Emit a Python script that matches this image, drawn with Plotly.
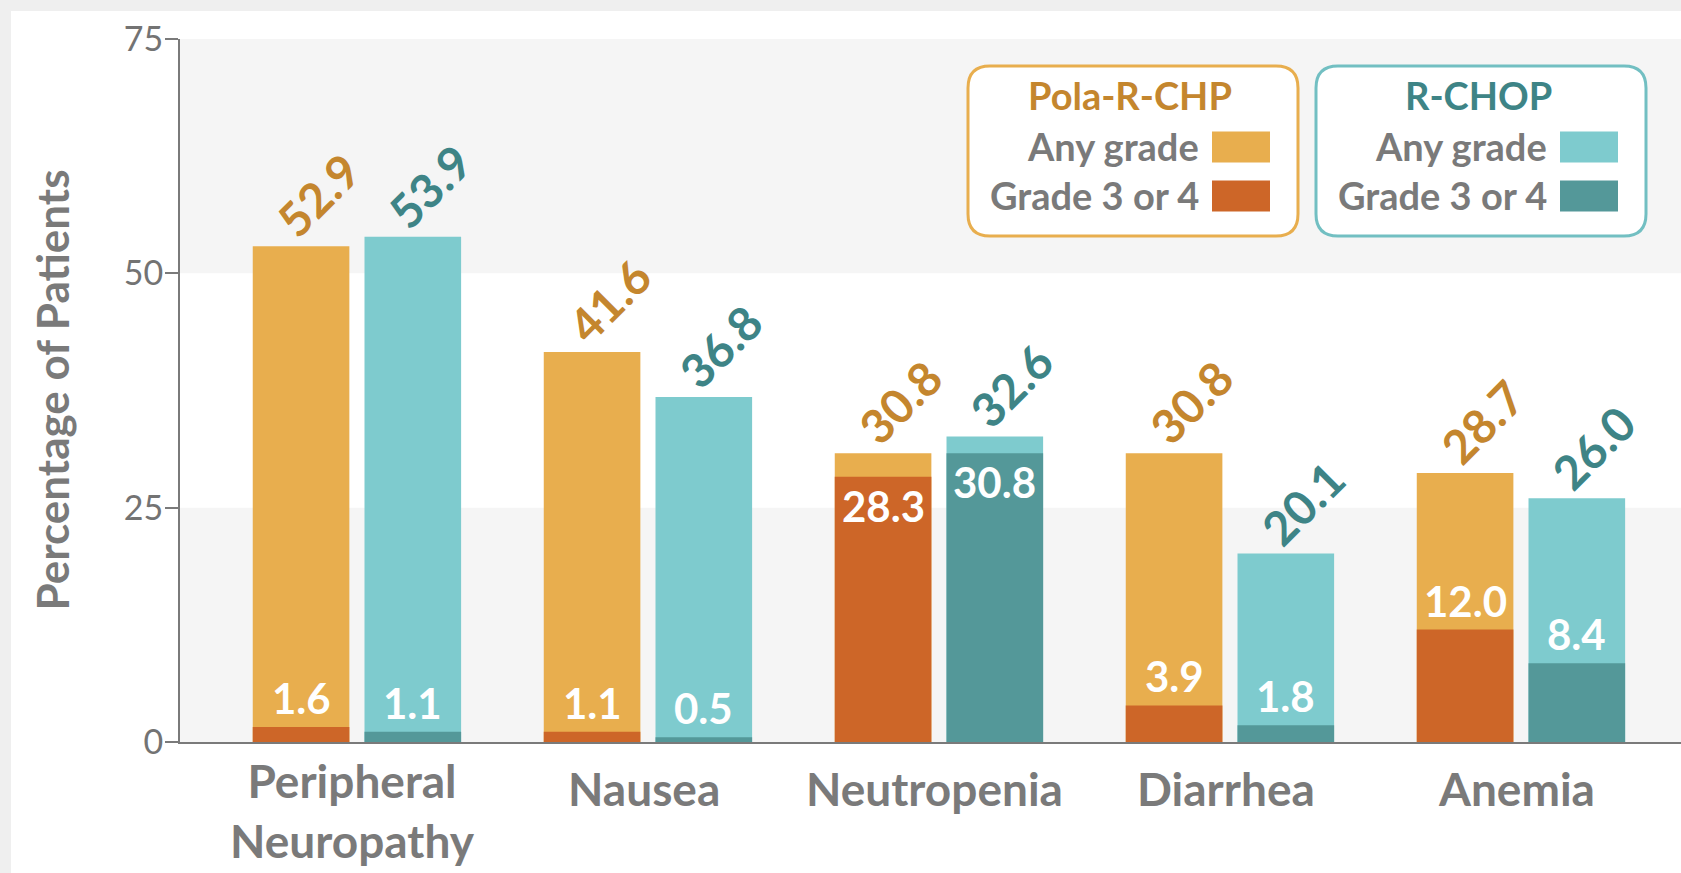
import plotly.graph_objects as go

# ---- data -------------------------------------------------------------
categories = ["Peripheral Neuropathy", "Nausea", "Neutropenia", "Diarrhea", "Anemia"]
category_lines = [["Peripheral", "Neuropathy"], ["Nausea"], ["Neutropenia"], ["Diarrhea"], ["Anemia"]]
pola_any = [52.9, 41.6, 30.8, 30.8, 28.7]
pola_g34 = [1.6, 1.1, 28.3, 3.9, 12.0]
rchop_any = [53.9, 36.8, 32.6, 20.1, 26.0]
rchop_g34 = [1.1, 0.5, 30.8, 1.8, 8.4]
y_ticks = [0, 25, 50, 75]
legend_groups = ["Pola-R-CHP", "R-CHOP"]
legend_items = ["Any grade", "Grade 3 or 4"]

# ---- styling ----------------------------------------------------------
FONT = "Lato"
GRAY = "#7a7a7a"
ORANGE_ANY = "#e8ae4e"
ORANGE_G34 = "#cd6628"
ORANGE_TXT = "#c4862e"
TEAL_ANY = "#7ecbce"
TEAL_G34 = "#549899"
TEAL_TXT = "#3e8486"

W, H = 1681, 873
M_L, M_R, M_T, M_B = 180, 0, 39, 131
PW, PH = W - M_L - M_R, H - M_T - M_B

BAR_W = 0.332
GAP = 0.052
off_pola = -(BAR_W + GAP / 2)
off_rchop = GAP / 2
ctr_pola = off_pola + BAR_W / 2
ctr_rchop = off_rchop + BAR_W / 2


def px(x):
    """pixel x -> paper x"""
    return (x - M_L) / PW


def py(y):
    """pixel y (from top) -> paper y"""
    return (H - M_B - y) / PH


fig = go.Figure()
for vals, color, off in [
    (pola_any, ORANGE_ANY, off_pola),
    (pola_g34, ORANGE_G34, off_pola),
    (rchop_any, TEAL_ANY, off_rchop),
    (rchop_g34, TEAL_G34, off_rchop),
]:
    fig.add_trace(go.Bar(
        x=categories, y=vals, width=BAR_W, offset=off,
        marker=dict(color=color, line=dict(width=0)),
        hoverinfo="skip", showlegend=False,
    ))

annotations = []
# totals above the bars, rotated
for i in range(len(categories)):
    for vals, c, col in [(pola_any, ctr_pola, ORANGE_TXT), (rchop_any, ctr_rchop, TEAL_TXT)]:
        annotations.append(dict(
            x=i + c, y=vals[i], xref="x", yref="y", text=f"{vals[i]:.1f}",
            textangle=-45, showarrow=False, xanchor="center", yanchor="middle",
            xshift=17, yshift=51,
            font=dict(family=FONT, size=47, color=col, weight="bold"),
        ))
# grade 3 or 4 values
for i in range(len(categories)):
    for anyv, g, c in [(pola_any, pola_g34, ctr_pola), (rchop_any, rchop_g34, ctr_rchop)]:
        room = anyv[i] - g[i]
        annotations.append(dict(
            x=i + c, y=g[i], xref="x", yref="y", text=f"{g[i]:.1f}",
            showarrow=False, xanchor="center", yanchor="middle",
            yshift=29 if room > 6 else -29,
            font=dict(family=FONT, size=42, color="white", weight="bold"),
        ))
# category labels
for i, lines in enumerate(category_lines):
    annotations.append(dict(
        x=i, y=py(788 + (len(lines) - 1) * 22.5), xref="x", yref="paper",
        text="<br>".join(lines),
        showarrow=False, xanchor="center", yanchor="middle", xshift=-4,
        font=dict(family=FONT, size=46, color=GRAY, weight="bold"),
    ))
# y-axis title
annotations.append(dict(
    x=px(51), y=0.5, xref="paper", yref="paper", text="Percentage of Patients",
    textangle=-90, showarrow=False, xanchor="center", yanchor="middle",
    font=dict(family=FONT, size=44, color=GRAY, weight="bold"),
))

shapes = [
    # white panel on the gray page
    dict(type="rect", xref="paper", yref="paper", x0=px(11), x1=px(W + 20),
         y0=py(H + 20), y1=py(11), fillcolor="white", line=dict(width=0), layer="below"),
]
# alternating bands
for lo, hi in [(0, 25), (50, 75)]:
    shapes.append(dict(type="rect", xref="paper", yref="y", x0=0, x1=1, y0=lo, y1=hi,
                       fillcolor="#f5f5f5", line=dict(width=0), layer="below"))


def rounded_box(x0, y0, x1, y1, r):
    pts = [
        f"M {px(x0 + r)},{py(y0)}",
        f"L {px(x1 - r)},{py(y0)}",
        f"Q {px(x1)},{py(y0)} {px(x1)},{py(y0 + r)}",
        f"L {px(x1)},{py(y1 - r)}",
        f"Q {px(x1)},{py(y1)} {px(x1 - r)},{py(y1)}",
        f"L {px(x0 + r)},{py(y1)}",
        f"Q {px(x0)},{py(y1)} {px(x0)},{py(y1 - r)}",
        f"L {px(x0)},{py(y0 + r)}",
        f"Q {px(x0)},{py(y0)} {px(x0 + r)},{py(y0)}",
        "Z",
    ]
    return " ".join(pts)


# legend boxes
legend_specs = [
    (legend_groups[0], 968, ORANGE_ANY, ORANGE_TXT, [ORANGE_ANY, ORANGE_G34]),
    (legend_groups[1], 1316, "#72bfc2", TEAL_TXT, [TEAL_ANY, TEAL_G34]),
]
for name, bx, border, tcol, swatches in legend_specs:
    shapes.append(dict(type="path", xref="paper", yref="paper",
                       path=rounded_box(bx, 66, bx + 330, 236, 22),
                       fillcolor="white", line=dict(color=border, width=3), layer="above"))
    annotations.append(dict(
        x=px(bx + 162), y=py(95), xref="paper", yref="paper", text=name,
        showarrow=False, xanchor="center", yanchor="middle",
        font=dict(family=FONT, size=38, color=tcol, weight="bold"),
    ))
    for k, (item, sw) in enumerate(zip(legend_items, swatches)):
        cy = 147 + k * 49
        annotations.append(dict(
            x=px(bx + 233), y=py(cy - 1), xref="paper", yref="paper", text=item,
            showarrow=False, xanchor="right", yanchor="middle",
            font=dict(family=FONT, size=38, color=GRAY, weight="bold"),
        ))
        shapes.append(dict(type="rect", xref="paper", yref="paper",
                           x0=px(bx + 244), x1=px(bx + 302),
                           y0=py(cy + 15.5), y1=py(cy - 15.5),
                           fillcolor=sw, line=dict(width=0), layer="above"))

fig.update_layout(
    width=W, height=H,
    margin=dict(l=M_L, r=M_R, t=M_T, b=M_B, pad=0),
    paper_bgcolor="#efefef", plot_bgcolor="rgba(0,0,0,0)",
    barmode="overlay", showlegend=False,
    annotations=annotations, shapes=shapes,
    xaxis=dict(
        type="category", range=[-0.608, 4.55], showticklabels=False,
        showline=True, linecolor=GRAY, linewidth=2, showgrid=False,
        zeroline=False, ticks="", fixedrange=True,
    ),
    yaxis=dict(
        range=[0, 75], tickvals=y_ticks, ticks="outside", ticklen=13,
        tickwidth=2, tickcolor=GRAY, showline=True, linecolor=GRAY, linewidth=2,
        showgrid=False, zeroline=False, fixedrange=True, ticklabelstandoff=-5,
        tickfont=dict(family=FONT, size=34, color="#737373", weight=400),
    ),
)

fig.write_html("out.html", config={"displayModeBar": False})
